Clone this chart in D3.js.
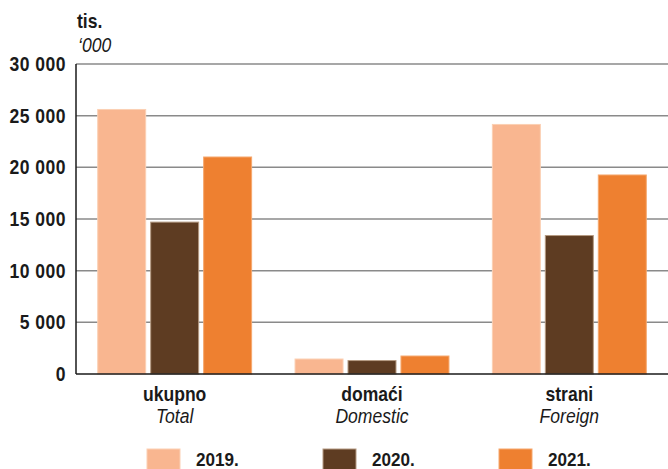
<!DOCTYPE html>
<html><head><meta charset="utf-8">
<script src="https://cdn.jsdelivr.net/npm/d3@7"></script>
<style>
html,body{margin:0;padding:0;background:#fff;}
text{font-family:"Liberation Sans",Arial,sans-serif;fill:#1a1a1a;}
</style></head>
<body>
<svg id="c" width="668" height="469"></svg>
<script>
const categories = ["ukupno", "domaći", "strani"];
const categoriesEn = ["Total", "Domestic", "Foreign"];
const years = ["2019.", "2020.", "2021."];
const values2019 = [25600, 1450, 24150];
const values2020 = [14700, 1300, 13400];
const values2021 = [21000, 1740, 19260];
const yTicks = [0, 5000, 10000, 15000, 20000, 25000, 30000];
const colors = ["#F9B690", "#5E3C22", "#EE8030"];
const strokes = ["#FBD0B4", "#B59A82", "#F5A86E"];

const series = [values2019, values2020, values2021];
const svg = d3.select("#c");
const mLeft = 76, mRight = 668, mTop = 64, mBottom = 374;
const SX = 0.9, FS = 19.5;

const x0 = d3.scaleBand().domain(categories).range([mLeft, mRight]).paddingInner(0.22).paddingOuter(0.11);
const x1 = d3.scaleBand().domain(years).range([0, x0.bandwidth()]).paddingInner(0.094).paddingOuter(0);
const y = d3.scaleLinear().domain([0, 30000]).range([mBottom, mTop]);

const fmt = v => d3.format(",")(v).replace(/,/g, " ");

function txt(x, yy, s, o = {}) {
  return svg.append("text")
    .attr("transform", `translate(${x},${yy}) scale(${SX},1)`)
    .attr("text-anchor", o.anchor || "start")
    .attr("font-size", o.size || FS)
    .attr("font-weight", o.bold ? "bold" : "normal")
    .attr("font-style", o.italic ? "italic" : "normal")
    .attr("letter-spacing", o.ls || 0)
    .text(s);
}

// gridlines
svg.append("g").selectAll("line").data(yTicks.filter(t => t > 0)).join("line")
  .attr("x1", mLeft).attr("x2", mRight)
  .attr("y1", d => y(d)).attr("y2", d => y(d))
  .attr("stroke", "#8a8a8a").attr("stroke-width", 1.5);

// y tick labels
yTicks.forEach(t => txt(mLeft - 10, y(t) + 7, fmt(t), {anchor: "end", bold: true, ls: 0.5}));

// bars
const g = svg.append("g");
categories.forEach((c, ci) => {
  years.forEach((yr, yi) => {
    const v = series[yi][ci];
    g.append("rect")
      .attr("x", x0(c) + x1(yr))
      .attr("y", y(v))
      .attr("width", x1.bandwidth())
      .attr("height", y(0) - y(v))
      .attr("fill", colors[yi])
      .attr("stroke", strokes[yi]).attr("stroke-width", 1);
  });
});

// axis lines
svg.append("line").attr("x1", mLeft).attr("x2", mLeft).attr("y1", mTop).attr("y2", mBottom)
  .attr("stroke", "#1a1a1a").attr("stroke-width", 1.5);
svg.append("line").attr("x1", mLeft).attr("x2", mRight).attr("y1", mBottom).attr("y2", mBottom)
  .attr("stroke", "#1a1a1a").attr("stroke-width", 1.5);

// category labels
categories.forEach((c, i) => {
  const cx = x0(c) + x0.bandwidth() / 2;
  txt(cx, 401, c, {anchor: "middle", bold: true});
  txt(cx, 423, categoriesEn[i], {anchor: "middle", italic: true});
});

// unit labels
txt(77, 28, "tis.", {bold: true});
txt(78, 52, "‘000", {italic: true});

// legend
const legX = d3.scalePoint().domain(years).range([147, 499]);
years.forEach((yr, i) => {
  const lx = legX(yr);
  svg.append("rect").attr("x", lx).attr("y", 449).attr("width", 33).attr("height", 24)
    .attr("fill", colors[i]).attr("stroke", strokes[i]).attr("stroke-width", 1);
  txt(lx + 49, 466, yr, {bold: true, size: 19});
});
</script>
</body></html>
